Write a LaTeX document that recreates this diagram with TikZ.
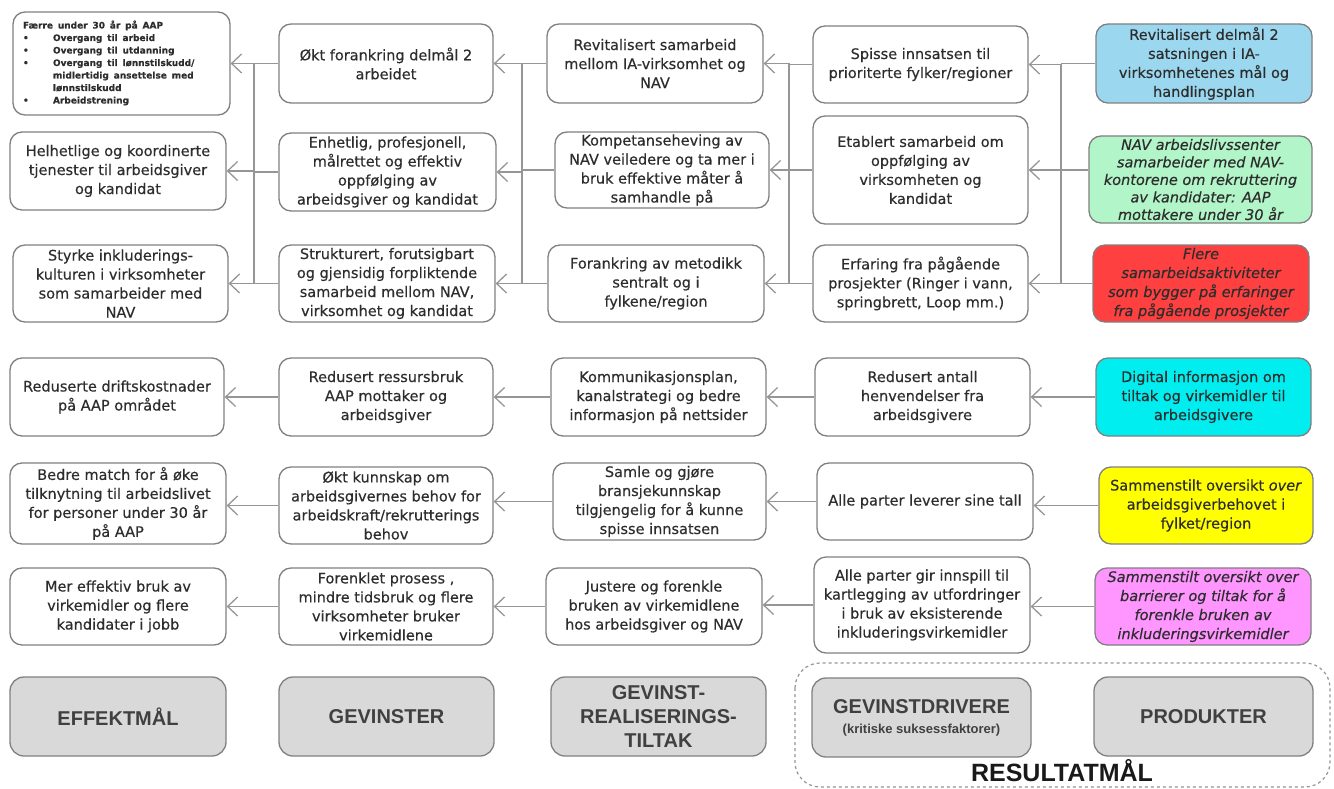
\documentclass[tikz,border=0pt]{standalone}
\usepackage{fontspec}
\setmainfont{DejaVu Sans}[FakeBold=0.35]
\setsansfont{Liberation Sans}
\usetikzlibrary{arrows.meta}
\definecolor{txt}{RGB}{45,45,45}
\definecolor{bord}{RGB}{128,128,128}
\definecolor{connc}{RGB}{150,150,150}
\definecolor{pblue}{RGB}{155,216,240}
\definecolor{pgreen}{RGB}{178,245,200}
\definecolor{pred}{RGB}{255,64,64}
\definecolor{pcyan}{RGB}{0,238,240}
\definecolor{pyellow}{RGB}{255,255,0}
\definecolor{pmag}{RGB}{255,150,255}
\definecolor{lgray}{RGB}{217,217,217}
\definecolor{ltxt}{RGB}{64,64,64}
\tikzset{
 box/.style={draw=bord, line width=1.3pt, rounded corners=12pt, fill=white, inner sep=0pt,
   align=center, text=txt, font=\fontsize{14.5}{19}\selectfont},
 legendbox/.style={box, fill=lgray, text=ltxt, font=\sffamily\bfseries\fontsize{20}{24}\selectfont, rounded corners=14pt},
 conn/.style={draw=connc, line width=1.5pt},
 arr/.style={conn, -{Straight Barb[length=10pt,width=19pt,line width=1.3pt]}},
}
\newcommand\bx[7][]{%
 \pgfmathsetmacro\bxcx{(#3+#5)/2}\pgfmathsetmacro\bxcy{(#4+#6)/2}%
 \pgfmathsetmacro\bxw{#5-#3}\pgfmathsetmacro\bxh{#6-#4}%
 \node[box,minimum width=\bxw pt,minimum height=\bxh pt,#1] (#2) at (\bxcx,\bxcy) {#7};}
\begin{document}
\begin{tikzpicture}[x=1pt,y=-1pt]
\useasboundingbox[fill=white] (0,0) rectangle (1334,789);
% column 1: Effektmaal
\bx[text width=197pt, align=left]{E1}{13}{12}{230}{115}{\fontsize{9}{12.5}\selectfont\bfseries
\begin{tabular}{@{}p{30pt}@{}l@{}}
\multicolumn{2}{@{}l@{}}{Færre under 30 år på AAP}\\
•& Overgang til arbeid\\
•& Overgang til utdanning\\
•& Overgang til lønnstilskudd/\\
 & midlertidig ansettelse med\\
 & lønnstilskudd\\
•& Arbeidstrening
\end{tabular}}
\bx{E2}{10}{132}{226}{210}{Helhetlige og koordinerte\\tjenester til arbeidsgiver\\og kandidat}
\bx{E3}{13}{245}{228}{322}{Styrke inkluderings-\\kulturen i virksomheter\\som samarbeider med\\NAV}
% column 2: Gevinster
\bx{G1}{279}{24}{493}{103}{Økt forankring delmål 2\\arbeidet}
\bx{G2}{279}{133}{496}{211}{Enhetlig, profesjonell,\\målrettet og effektiv\\oppfølging av\\arbeidsgiver og kandidat}
\bx{G3}{279}{245}{495}{322}{Strukturert, forutsigbart\\og gjensidig forpliktende\\samarbeid mellom NAV,\\virksomhet og kandidat}
% column 3
\bx{T1}{547}{24}{763}{103}{Revitalisert samarbeid\\mellom IA-virksomhet og\\NAV}
\bx{T2}{555}{132}{769}{208}{Kompetanseheving av\\NAV veiledere og ta mer i\\bruk effektive måter å\\samhandle på}
\bx{T3}{548}{245}{764}{322}{Forankring av metodikk\\sentralt og i\\fylkene/region}
% column 4
\bx{D1}{813}{26}{1028}{103}{Spisse innsatsen til\\prioriterte fylker/regioner}
\bx{D2}{813}{116}{1028}{224}{Etablert samarbeid om\\oppfølging av\\virksomheten og\\kandidat}
\bx{D3}{813}{245}{1028}{322}{Erfaring fra pågående\\prosjekter (Ringer i vann,\\springbrett, Loop mm.)}
% column 5
\bx[fill=pblue]{P1}{1096}{24}{1312}{103}{Revitalisert delmål 2\\satsningen i IA-\\virksomhetenes mål og\\handlingsplan}
\bx[fill=pgreen,font=\itshape\fontsize{14.5}{17.5}\selectfont]{P2}{1089}{136}{1312}{223}{NAV arbeidslivssenter\\samarbeider med NAV-\\kontorene om rekruttering\\av kandidater: AAP\\mottakere under 30 år}
\bx[fill=pred,font=\itshape\fontsize{14.5}{19}\selectfont]{P3}{1093}{245}{1309}{322}{Flere\\samarbeidsaktiviteter\\som bygger på erfaringer\\fra pågående prosjekter}
% row 4
\bx{E4}{10}{358}{224}{436}{Reduserte driftskostnader\\på AAP området}
\bx{G4}{279}{358}{493}{436}{Redusert ressursbruk\\AAP mottaker og\\arbeidsgiver}
\bx{T4}{551}{358}{766}{436}{Kommunikasjonsplan,\\kanalstrategi og bedre\\informasjon på nettsider}
\bx{D4}{815}{358}{1030}{436}{Redusert antall\\henvendelser fra\\arbeidsgivere}
\bx[fill=pcyan]{P4}{1096}{358}{1311}{436}{Digital informasjon om\\tiltak og virkemidler til\\arbeidsgivere}
% row 5
\bx{E5}{10}{463}{226}{544}{Bedre match for å øke\\tilknytning til arbeidslivet\\for personer under 30 år\\på AAP}
\bx{G5}{279}{467}{493}{544}{Økt kunnskap om\\arbeidsgivernes behov for\\arbeidskraft/rekrutterings\\behov}
\bx{T5}{553}{463}{766}{540}{Samle og gjøre\\bransjekunnskap\\tilgjengelig for å kunne\\spisse innsatsen}
\bx{D5}{817}{463}{1033}{540}{Alle parter leverer sine tall}
\bx[fill=pyellow]{P5}{1099}{467}{1313}{544}{Sammenstilt oversikt \textit{over}\\arbeidsgiverbehovet i\\fylket/region}
% row 6
\bx{E6}{10}{568}{226}{645}{Mer effektiv bruk av\\virkemidler og flere\\kandidater i jobb}
\bx{G6}{279}{568}{493}{645}{Forenklet prosess ,\\mindre tidsbruk og flere\\virksomheter bruker\\virkemidlene}
\bx{T6}{546}{568}{762}{645}{Justere og forenkle\\bruken av virkemidlene\\hos arbeidsgiver og NAV}
\bx{D6}{814}{557}{1030}{653}{Alle parter gir innspill til\\kartlegging av utfordringer\\i bruk av eksisterende\\inkluderingsvirkemidler}
\bx[fill=pmag,font=\itshape\fontsize{14.5}{19}\selectfont]{P6}{1095}{568}{1311}{645}{Sammenstilt oversikt over\\barrierer og tiltak for å\\forenkle bruken av\\inkluderingsvirkemidler}
% legend
\draw[draw=connc, line width=1.2pt, dashed, rounded corners=25pt] (795,663) rectangle (1330,787);
\bx[legendbox]{L1}{10}{677}{226}{756}{EFFEKTMÅL}
\bx[legendbox]{L2}{279}{677}{494}{756}{GEVINSTER}
\bx[legendbox]{L3}{551}{677}{766}{756}{GEVINST-\\REALISERINGS-\\TILTAK}
\bx[legendbox]{L4}{812}{678}{1031}{757}{GEVINSTDRIVERE\\[-4pt]{\fontsize{13}{16}\selectfont(kritiske suksessfaktorer)}}
\bx[legendbox]{L5}{1094}{677}{1313}{756}{PRODUKTER}
\node[font=\sffamily\bfseries\fontsize{25}{28}\selectfont, text=black!90, inner sep=0pt] (RM) at (1062,771) {RESULTATMÅL};
% buses (top section)
\coordinate (busA) at (254,0);
\coordinate (busB) at (522,0);
\coordinate (busC) at (789,0);
\coordinate (busD) at (1061,0);
% G -> E
\draw[conn] (busA |- E1.east) -- (busA |- E3.east);
\foreach \s in {G1,G2,G3} \draw[conn] (\s.west) -- (\s.west -| busA);
\foreach \t in {E1,E2,E3} \draw[arr] (busA |- \t.east) -- (\t.east);
% T -> G
\draw[conn] (busB |- G1.east) -- (busB |- G3.east);
\foreach \s in {T1,T2,T3} \draw[conn] (\s.west) -- (\s.west -| busB);
\foreach \t in {G1,G2,G3} \draw[arr] (busB |- \t.east) -- (\t.east);
% D -> T
\draw[conn] (busC |- T1.east) -- (busC |- T3.east);
\foreach \s in {D1,D2,D3} \draw[conn] (\s.west) -- (\s.west -| busC);
\foreach \t in {T1,T2,T3} \draw[arr] (busC |- \t.east) -- (\t.east);
% P -> D
\draw[conn] (busD |- D1.east) -- (busD |- D3.east);
\draw[conn] (P1.west) -- (P1.west -| busD);
\draw[conn] (P2.west |- D2.east) -- (busD |- D2.east);
\draw[conn] (P3.west) -- (P3.west -| busD);
\foreach \t in {D1,D2,D3} \draw[arr] (busD |- \t.east) -- (\t.east);
% bottom rows
\foreach \r in {4,5,6}{
  \draw[arr] (G\r.west) -- (G\r.west -| E\r.east);
  \draw[arr] (T\r.west) -- (T\r.west -| G\r.east);
  \draw[arr] (D\r.west) -- (D\r.west -| T\r.east);
  \draw[arr] (P\r.west) -- (P\r.west -| D\r.east);
}
\end{tikzpicture}
\end{document}
